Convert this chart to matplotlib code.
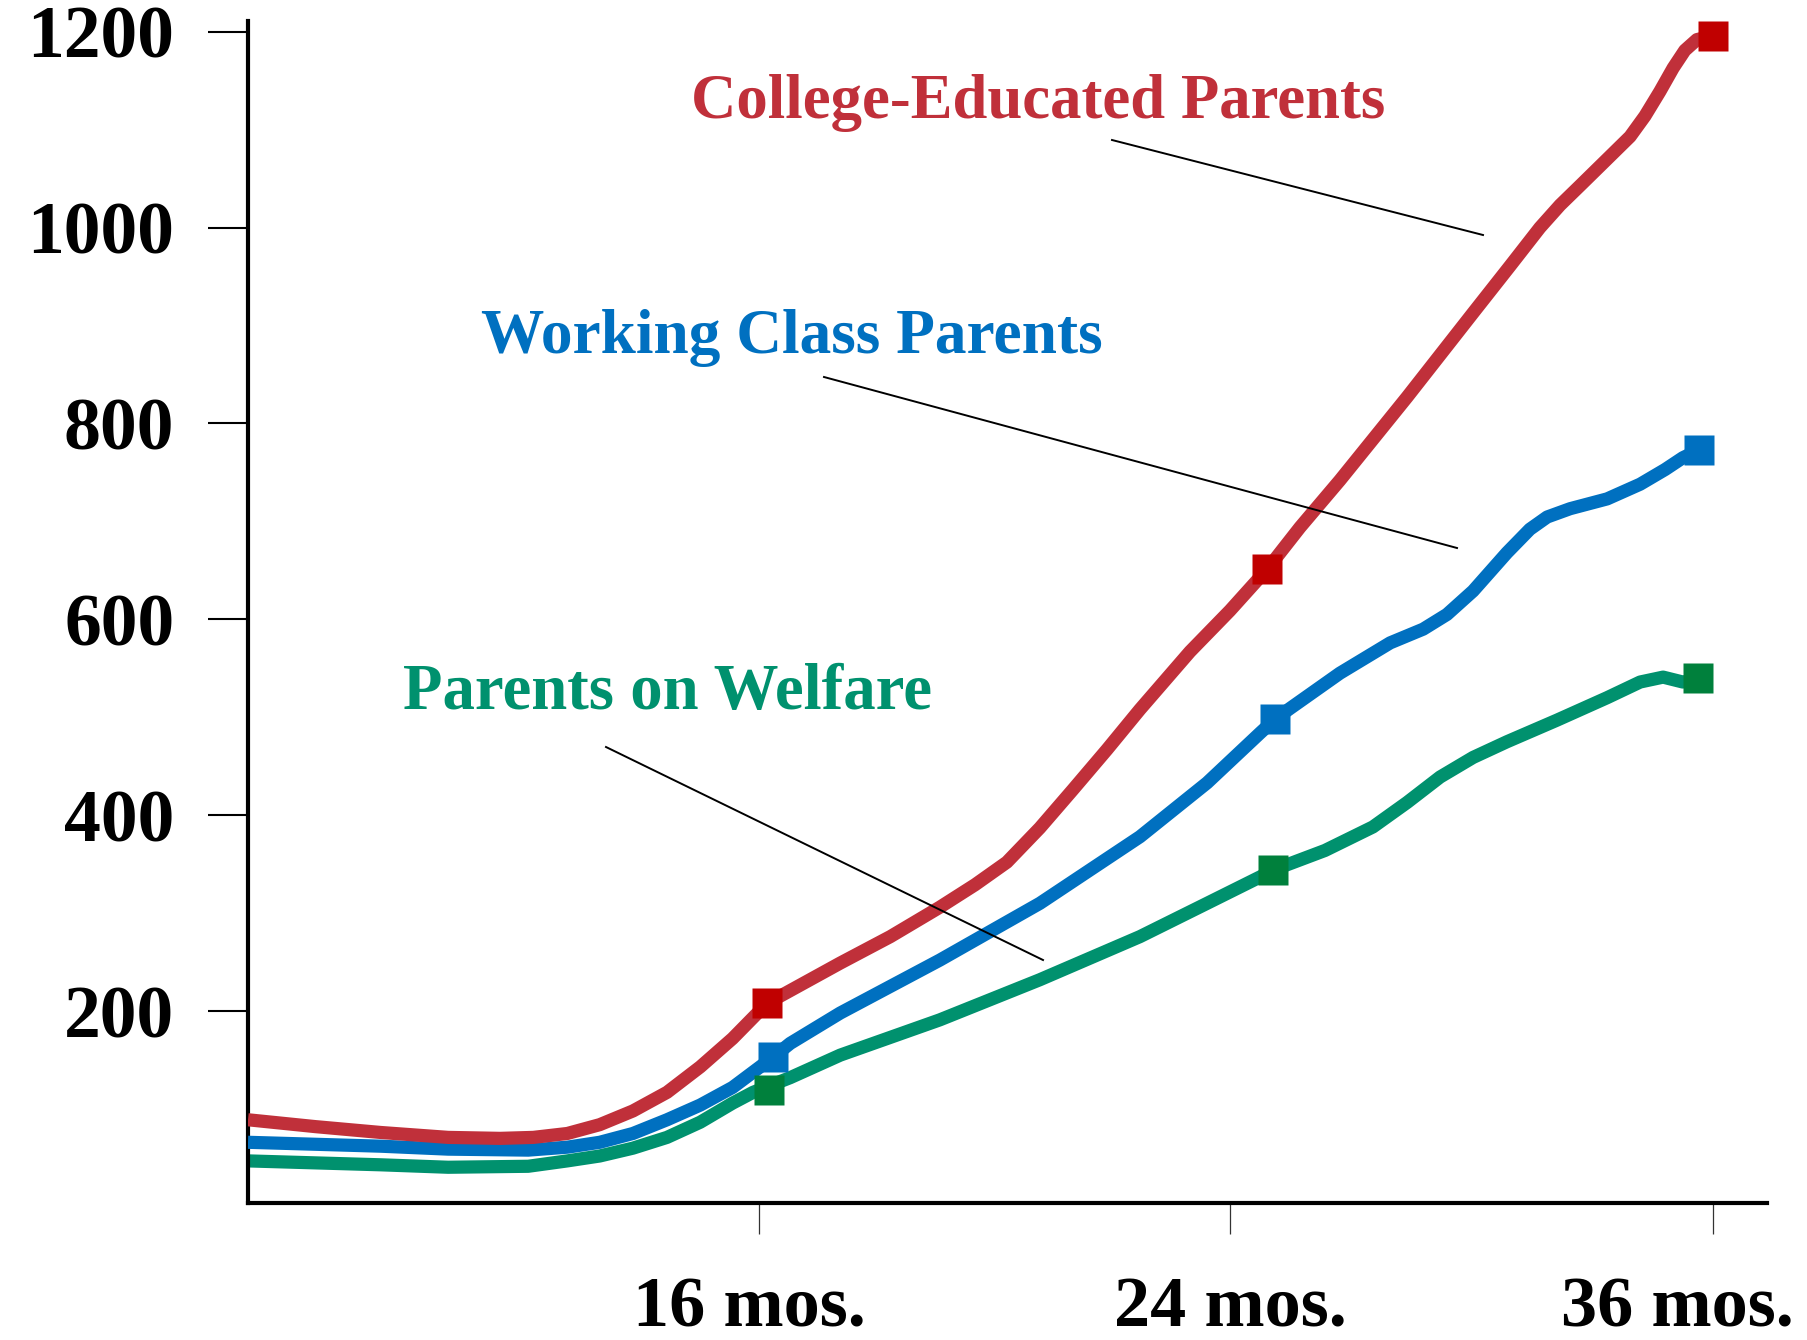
import numpy as np
import matplotlib
matplotlib.use("Agg")
import matplotlib.pyplot as plt
from matplotlib.transforms import ScaledTranslation

plt.rcParams['font.family'] = ['Liberation Serif', 'DejaVu Serif']
plt.rcParams['font.weight'] = 'bold'

# ---------------- data (age in months, words) ----------------
red_x = [10.00, 10.79, 11.56, 12.35, 12.96, 13.35, 13.75, 14.13, 14.52, 14.92, 15.31,
         15.69, 16.14, 17.38, 18.23, 19.07, 19.67, 20.21, 20.77, 21.33,
         21.91, 22.47, 23.32, 24.00, 24.92, 25.74, 26.73, 28.40, 30.04, 30.96,
         31.70, 32.20, 32.70, 33.37, 33.94, 34.31, 34.68, 35.01, 35.30, 35.60, 36.0]
red_y = [89, 82, 76, 71, 70, 71, 75, 84, 98, 117, 143,
         172, 208, 249, 276, 306, 329, 352, 387, 426,
         467, 508, 567, 609, 651, 694, 742, 827, 913, 961,
         1000, 1023, 1043, 1070, 1093, 1114, 1139, 1163, 1181, 1192, 1196]

blue_x = [10, 11.56, 12.35, 13.29, 13.75, 14.13, 14.52, 14.92, 15.31, 15.69,
          16.24, 16.53, 17.38, 19.07, 20.77, 22.47, 23.61, 24.75, 25.12, 25.49,
          26.73, 27.98, 28.80, 29.39, 30.04, 30.88, 31.45, 31.88, 32.45, 33.37,
          34.19, 34.81, 35.25, 35.65]
blue_y = [66, 62, 59, 58, 61, 66, 75, 89, 104, 122,
          153, 167, 198, 252, 310, 378, 433, 484, 498, 509,
          545, 576, 590, 605, 629, 668, 692, 704.5, 713, 723,
          738, 753, 765, 773]

green_x = [10, 11.56, 12.35, 13.29, 13.75, 14.13, 14.52, 14.92, 15.31, 15.69, 15.93,
           16.19, 16.53, 17.38, 19.07, 20.77, 22.47, 23.61, 24.75, 25.07, 26.36,
           27.55, 28.40, 29.22, 30.04, 30.88, 32.12, 33.37, 34.19, 34.76, 35.25, 35.60]
green_y = [47, 43, 40.5, 41.5, 47, 52, 60, 71, 86.5, 106, 117,
           124, 132, 155, 191, 232, 276, 310, 337, 344, 364,
           388, 413, 439, 459, 475, 497, 520, 536, 541, 536, 539]

red_mx, red_my = [16.14, 24.92, 36.0], [208, 651, 1196]
blue_mx, blue_my = [16.24, 25.12, 35.65], [153, 498, 773]
green_mx, green_my = [16.17, 25.07, 35.62], [119, 344, 540]

y_ticks = [200, 400, 600, 800, 1000, 1200]
x_ticks = [16, 24, 36]
x_labels = ["16 mos.", "24 mos.", "36 mos."]

series_labels = ["College-Educated Parents", "Working Class Parents", "Parents on Welfare"]

# ---------------- styles ----------------
RED_L, RED_M = '#C0303A', '#C00000'
BLUE_L, BLUE_M = '#0070C0', '#0070C0'
GREEN_L, GREEN_M = '#00916E', '#00803C'

# piecewise-linear month axis (the original drawing is not to scale)
KM = np.array([10.0, 16.0, 24.0, 36.0])
KP = np.array([248.0, 759.0, 1230.0, 1713.0])
s_lo = (KP[1] - KP[0]) / (KM[1] - KM[0])
s_hi = (KP[-1] - KP[-2]) / (KM[-1] - KM[-2])


def fwd(x):
    x = np.asarray(x, dtype=float)
    out = np.interp(x, KM, KP)
    out = np.where(x < KM[0], KP[0] + (x - KM[0]) * s_lo, out)
    out = np.where(x > KM[-1], KP[-1] + (x - KM[-1]) * s_hi, out)
    return out


def inv(p):
    p = np.asarray(p, dtype=float)
    out = np.interp(p, KP, KM)
    out = np.where(p < KP[0], KM[0] + (p - KP[0]) / s_lo, out)
    out = np.where(p > KP[-1], KM[-1] + (p - KP[-1]) / s_hi, out)
    return out


W, H = 1807, 1340
fig = plt.figure(figsize=(W / 100, H / 100), dpi=100)
ax = fig.add_axes([248 / W, 1 - 1203 / H, (1767 - 248) / W, (1203 - 21) / H])
ax.set_xscale('function', functions=(fwd, inv))
ax.set_xlim(10, float(inv(1767)))
ax.set_ylim(4, 1211)

lw = 9.5
kw = dict(lw=lw, solid_capstyle='butt', solid_joinstyle='round')
ax.plot(green_x, green_y, color=GREEN_L, zorder=2, **kw)
ax.plot(blue_x, blue_y, color=BLUE_L, zorder=3, **kw)
ax.plot(red_x, red_y, color=RED_L, zorder=4, **kw)

ms = 22
ax.plot(green_mx, green_my, ls='none', marker='s', ms=ms, color=GREEN_M, mec='none', zorder=5, clip_on=False)
ax.plot(blue_mx, blue_my, ls='none', marker='s', ms=ms, color=BLUE_M, mec='none', zorder=5, clip_on=False)
ax.plot(red_mx, red_my, ls='none', marker='s', ms=ms, color=RED_M, mec='none', zorder=5, clip_on=False)

# axes styling
for s in ['top', 'right']:
    ax.spines[s].set_visible(False)
for s in ['left', 'bottom']:
    ax.spines[s].set_linewidth(3)
    ax.spines[s].set_color('black')

ax.set_yticks(y_ticks)
ax.set_yticklabels([str(v) for v in y_ticks])
ax.tick_params(axis='y', direction='out', length=29, width=1.5, color='black', pad=24,
               labelsize=53)
ax.set_xticks(x_ticks)
ax.set_xticklabels(x_labels)
ax.tick_params(axis='x', direction='out', length=22, width=0.9, color='#333333', pad=31,
               labelsize=52)
ax.minorticks_off()
for lab in ax.get_yticklabels() + ax.get_xticklabels():
    lab.set_fontweight('bold')

offsets = [-0.10, 0.0, -0.36]
for lab, off in zip(ax.get_xticklabels(), offsets):
    lab.set_transform(lab.get_transform() + ScaledTranslation(off, 0, fig.dpi_scale_trans))

# series labels and leader lines (figure pixel positions)
text_specs = [
    (series_labels[0], 691, 118, RED_L, 45.2, (1112, 140), (1483, 235)),
    (series_labels[1], 481, 353, BLUE_L, 45.6, (824, 377), (1457, 548)),
    (series_labels[2], 403, 709, GREEN_L, 46.6, (606, 747), (1043, 960)),
]
for txt, tx, ty, col, fs, p0, p1 in text_specs:
    fig.text(tx / W, 1 - ty / H, txt, color=col, fontsize=fs, fontweight='bold',
             ha='left', va='baseline')
    fig.add_artist(plt.Line2D([p0[0] / W, p1[0] / W], [1 - p0[1] / H, 1 - p1[1] / H],
                              transform=fig.transFigure, color='black', lw=1.4))

fig.savefig('out.png', dpi=100)
